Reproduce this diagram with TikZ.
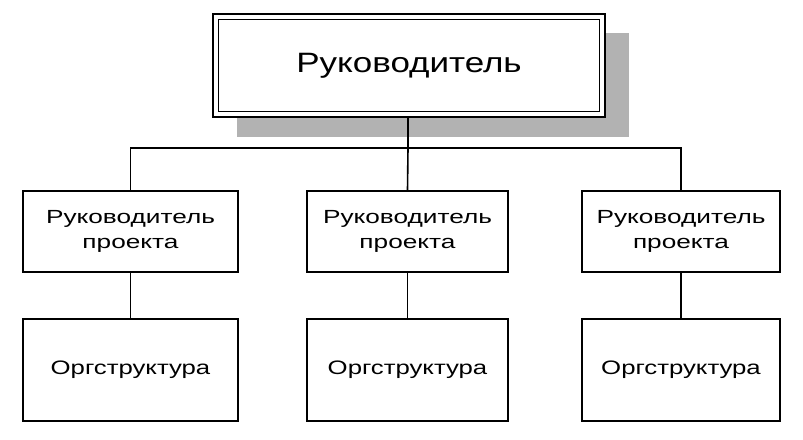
\documentclass[tikz,border=0pt]{standalone}
\usepackage{fontspec}
\setmainfont{Liberation Sans}
\newfontfamily\topfont[FakeStretch=1.25]{Liberation Sans}
\newfontfamily\midfont[FakeStretch=1.38]{Liberation Sans}
\newfontfamily\botfont[FakeStretch=1.32]{Liberation Sans}
\begin{document}
\begin{tikzpicture}[x=1pt,y=-1pt,
  box/.style={draw=black,line width=1.6pt,fill=white,inner sep=0pt,align=center},
  midbox/.style={box,minimum height=81pt,font=\midfont\fontsize{19}{25}\selectfont},
  botbox/.style={box,minimum height=102pt,font=\botfont\fontsize{19.5}{24}\selectfont},
  conn/.style={draw=black,line width=1.6pt}]
\useasboundingbox[fill=white] (0,0) rectangle (803,439);
% shadow
\fill[black!30] (237,33) rectangle (629,137);
% top box
\node[box,minimum width=392pt,minimum height=103pt,font=\topfont\fontsize{28}{34}\selectfont] (top) at (409,65.5) {Руководитель};
\draw[line width=1.4pt] (218.5,19.5) rectangle (599.5,111.5);
% middle boxes
\node[midbox,minimum width=215pt] (m1) at (130.5,231.5) {Руководитель\\проекта};
\node[midbox,minimum width=201pt] (m2) at (407.5,231.5) {Руководитель\\проекта};
\node[midbox,minimum width=198pt] (m3) at (681,231.5) {Руководитель\\проекта};
% bottom boxes
\node[botbox,minimum width=215pt] (b1) at (130.5,370) {Оргструктура};
\node[botbox,minimum width=201pt] (b2) at (407.5,370) {Оргструктура};
\node[botbox,minimum width=198pt] (b3) at (681,370) {Оргструктура};
% connectors
\coordinate (j) at (408,148);
\draw[conn] (top.south -| j) -- (j);
\draw[conn] (m1.north) |- (j) -| (m3.north);
\draw[conn] (j) -- (m2.north);
\draw[conn] (m1.south) -- (b1.north);
\draw[conn] (m2.south) -- (b2.north);
\draw[conn] (m3.south) -- (b3.north);
\end{tikzpicture}
\end{document}
